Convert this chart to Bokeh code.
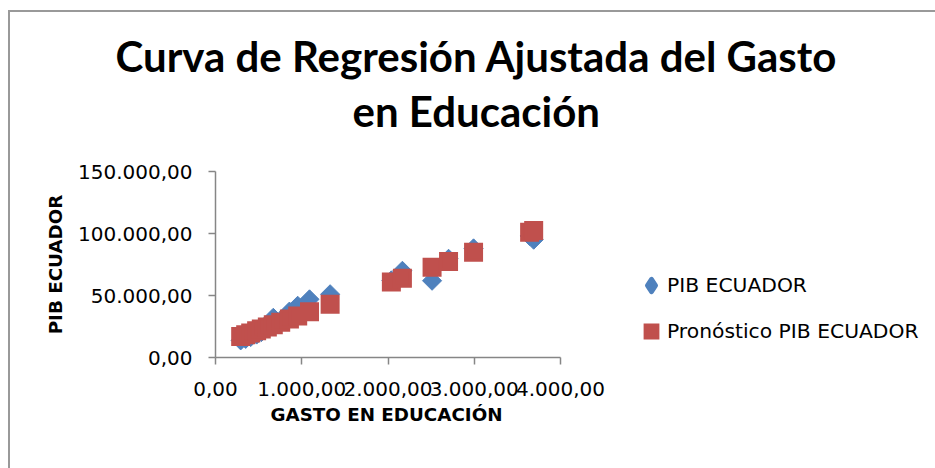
import math
from bokeh.plotting import figure
from bokeh.models import (FixedTicker, CustomJSTickFormatter, Title, Legend, LegendItem,
                          Range1d)
from bokeh.embed import file_html
from bokeh.resources import INLINE

# ---- data ----
gasto_educacion = [292, 350, 408, 477, 531, 601, 670, 756, 857, 953, 1090, 1329,
                   2039, 2167, 2511, 2702, 2992, 3642, 3689]
pib_ecuador = [13800, 15000, 16500, 18500, 20500, 24000, 32000, 30000, 37000, 41700,
               46900, 51000, 62200, 69900, 61900, 79600, 88000, 98000, 95000]
pronostico_pib = [16900, 18300, 19800, 21500, 22900, 24600, 26400, 28500, 31100, 33500,
                  36900, 42900, 60800, 64000, 72700, 77500, 84800, 101100, 102400]
x_ticks = [0, 1000, 2000, 3000, 4000]
y_ticks = [0, 50000, 100000, 150000]

title_line1 = "Curva de Regresión Ajustada del Gasto"
title_line2 = "en Educación"
x_label = "GASTO EN EDUCACIÓN"
y_label = "PIB ECUADOR"
series_names = ["PIB ECUADOR", "Pronóstico PIB ECUADOR"]

BLUE = "#4F81BD"
RED = "#C0504D"
GRAY = "#868686"
TICK_FONT = "DejaVu Sans"
TITLE_FONT = "Lato"

W, H = 935, 468
AXIS_LEFT, AXIS_RIGHT = 215, 560          # pixel extent of the drawn x axis
# the frame runs on to the right edge (to hold the legend); the axis is bounded
x_view_end = x_ticks[-1] * (W - AXIS_LEFT) / (AXIS_RIGHT - AXIS_LEFT)

border_css = ("linear-gradient(#999999,#999999) 8px 10px / 2px calc(100% - 10px) no-repeat, "
              "linear-gradient(#999999,#999999) 8px 10px / calc(100% - 8px) 2px no-repeat, "
              "#ffffff")

p = figure(width=W, height=H, output_backend="svg", toolbar_location=None,
           x_range=Range1d(0, x_view_end), y_range=Range1d(y_ticks[0], y_ticks[-1]),
           min_border_left=AXIS_LEFT, min_border_right=0, min_border_top=171,
           min_border_bottom=111,
           background_fill_color="white", border_fill_alpha=0,
           styles={"background": border_css})
p.outline_line_color = None
p.xgrid.visible = False
p.ygrid.visible = False

fmt = CustomJSTickFormatter(code="""
const s = Math.round(tick).toString().replace(/\\B(?=(\\d{3})+(?!\\d))/g, ".");
return s + ",00";
""")

for ax in (p.xaxis[0], p.yaxis[0]):
    ax.formatter = fmt
    ax.axis_line_color = GRAY
    ax.axis_line_width = 1.5
    ax.major_tick_line_color = GRAY
    ax.major_tick_line_width = 1.5
    ax.minor_tick_line_color = None
    ax.major_tick_in = 0
    ax.major_tick_out = 7
    ax.major_label_text_font = TICK_FONT
    ax.major_label_text_font_size = "20px"
    ax.major_label_text_color = "black"
    ax.axis_label_text_font = TICK_FONT
    ax.axis_label_text_font_size = "18.3px"
    ax.axis_label_text_font_style = "bold"
    ax.axis_label_text_color = "black"

p.xaxis.ticker = FixedTicker(ticks=x_ticks)
p.yaxis.ticker = FixedTicker(ticks=y_ticks)
p.xaxis.bounds = (x_ticks[0], x_ticks[-1])
p.yaxis.axis_label = y_label
p.yaxis.major_label_orientation = "horizontal"
p.xaxis.major_label_standoff = 17
p.yaxis.major_label_standoff = 16
p.yaxis.axis_label_standoff = 9

r_pib = p.scatter(gasto_educacion, pib_ecuador, marker="square", angle=math.pi / 4,
                  size=13.5, line_join="miter", fill_color=BLUE, line_color=BLUE)
r_pron = p.scatter(gasto_educacion, pronostico_pib, marker="square", size=16,
                   line_width=3, line_join="miter", fill_color=RED, line_color=RED)
# legend key for the first series (diamond); hidden in the plot itself
r_pib_key = p.scatter(gasto_educacion, pib_ecuador, marker="diamond", line_width=4.5,
                      line_join="round", fill_color=BLUE, line_color=BLUE, visible=False)

# x-axis label as a "below" title so it can sit centred under the axis
xt = Title(text=x_label, align="left", offset=55, text_font=TICK_FONT,
           text_font_size="18.3px", text_font_style="bold", text_color="black",
           standoff=6)
p.add_layout(xt, "below")

t2 = Title(text=title_line2, align="left", offset=137, text_font=TITLE_FONT,
           text_font_size="42px", text_font_style="bold", text_color="black", standoff=71)
p.add_layout(t2, "above")
t1 = Title(text=title_line1, align="left", offset=-100, text_font=TITLE_FONT,
           text_font_size="42px", text_font_style="bold", text_color="black", standoff=-64)
p.add_layout(t1, "above")

legend = Legend(items=[LegendItem(label=series_names[0], renderers=[r_pib_key]),
                       LegendItem(label=series_names[1], renderers=[r_pron])],
                location=(420, 6), glyph_width=32, glyph_height=40, label_standoff=0,
                label_height=40, spacing=6, padding=0, margin=0,
                border_line_color=None, background_fill_alpha=0,
                inactive_fill_alpha=0, click_policy="none",
                label_text_font=TICK_FONT, label_text_font_size="20.3px",
                label_text_color="black")
p.add_layout(legend)

open("out.html", "w").write(file_html(p, INLINE))
